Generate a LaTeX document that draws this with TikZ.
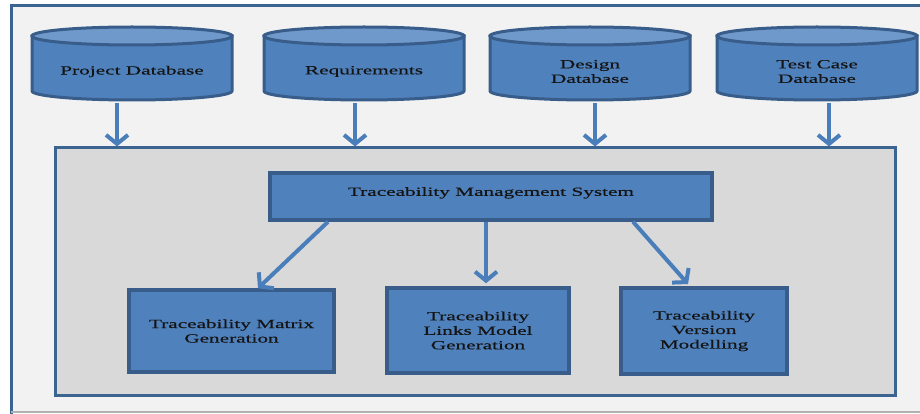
\documentclass[tikz,border=0pt]{standalone}
\usepackage{fontspec}
\setmainfont{Liberation Serif}[FakeStretch=1.7,FakeBold=0.4]
\usetikzlibrary{arrows.meta}
\definecolor{boxfill}{HTML}{4F81BD}
\definecolor{boxedge}{HTML}{385D8A}
\definecolor{cyltopc}{HTML}{7099CB}
\definecolor{frameedge}{HTML}{3C6491}
\definecolor{outerbg}{HTML}{F2F2F2}
\definecolor{innerbg}{HTML}{D9D9D9}
\definecolor{arrowc}{HTML}{4A7EBB}
\definecolor{txt}{HTML}{141414}
\tikzset{
  box/.style={draw=boxedge, fill=boxfill, line width=3.5pt, align=center, inner sep=0pt, text=txt,
    font=\fontsize{12.5}{14.5}\selectfont},
  cylbody/.style={draw=boxedge, fill=boxfill, line width=3pt},
  cyltop/.style={draw=boxedge, fill=cyltopc, line width=3pt},
  cyltext/.style={align=center, inner sep=0pt, text=txt, minimum width=200pt, minimum height=60pt,
    font=\fontsize{12.5}{14.5}\selectfont},
  flow/.style={draw=arrowc, line width=4pt, -{Straight Barb[length=9pt,width=22pt]}},
}
\newcommand\dbcyl[3]{%
  \filldraw[cylbody] (#2-100,36) -- (#2-100,91) arc[start angle=180,end angle=0,x radius=100,y radius=9] -- (#2+100,36) -- cycle;
  \filldraw[cyltop] (#2,36) ellipse[x radius=100,y radius=9];
  \node[cyltext] (#1) at (#2,71.5) {#3};
}
\begin{document}
\begin{tikzpicture}[x=1pt,y=-1pt]
\useasboundingbox (0,0) rectangle (920,414);
\fill[white] (0,0) rectangle (920,414);
% outer frame
\fill[outerbg] (11,6) rectangle (920,412);
\draw[frameedge, line width=3pt] (11,414) -- (11,6) -- (920,6);
\draw[gray!60, line width=1.2pt] (11,412) -- (920,412);
% core system box
\node[box, draw=frameedge, fill=innerbg, line width=3pt, minimum width=840pt, minimum height=247pt] (core) at (475,271.5) {};
\node[box, minimum width=442pt, minimum height=47pt] (tms) at (491,196.5) {\raisebox{10pt}{Traceability Management System}};
\node[box, minimum width=205pt, minimum height=82pt] (matrix) at (231.5,331) {Traceability Matrix\\Generation};
\node[box, minimum width=182pt, minimum height=85pt] (links) at (478,330.5) {Traceability\\Links Model\\Generation};
\node[box, minimum width=166pt, minimum height=86pt] (version) at (704,331) {Traceability\\Version\\Modelling};
% databases
\dbcyl{pd}{132}{Project Database}
\dbcyl{req}{364}{Requirements}
\dbcyl{des}{590}{Design\\Database}
\dbcyl{tc}{817}{Test Case\\Database}
% arrows
\draw[flow] ([xshift=-15pt,yshift=-1.5pt]pd.south) -- ([xshift=-15pt]pd.south |- core.north);
\draw[flow] ([xshift=-9pt,yshift=-1.5pt]req.south) -- ([xshift=-9pt]req.south |- core.north);
\draw[flow] ([xshift=5pt,yshift=-1.5pt]des.south) -- ([xshift=5pt]des.south |- core.north);
\draw[flow] ([xshift=12pt,yshift=-1.5pt]tc.south) -- ([xshift=12pt]tc.south |- core.north);
\draw[flow] ([xshift=-163pt]tms.south) -- ([xshift=26.5pt]matrix.north);
\draw[flow, shorten >=3pt] ([xshift=-5pt]tms.south) -- ([xshift=8pt]links.north);
\draw[flow, shorten >=3pt] ([xshift=142pt]tms.south) -- ([xshift=-14pt]version.north);
\end{tikzpicture}
\end{document}
